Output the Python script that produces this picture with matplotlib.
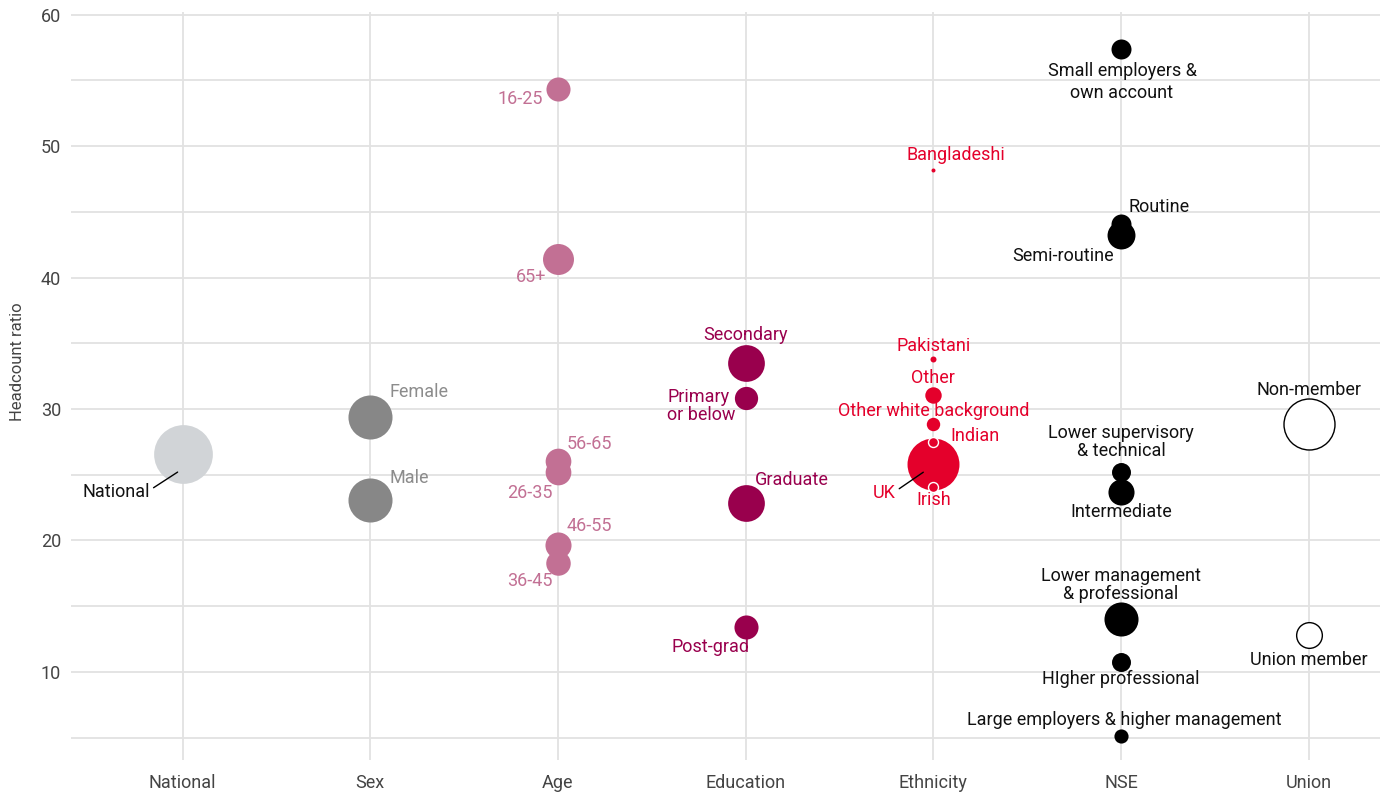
import matplotlib
matplotlib.use("Agg")
import matplotlib.pyplot as plt
from matplotlib.transforms import offset_copy

plt.rcParams["font.family"] = ["Roboto", "DejaVu Sans"]

# ---- data ----
groups = ["National", "Sex", "Age", "Education", "Ethnicity", "NSE", "Union"]

national_labels = ["National"]
national_vals = [26.57]
national_share = [34.5]

sex_labels = ["Female", "Male"]
sex_vals = [29.40, 23.07]
sex_share = [19.4, 19.4]

age_labels = ["16-25", "65+", "56-65", "26-35", "46-55", "36-45"]
age_vals = [54.35, 41.43, 26.06, 25.22, 19.65, 18.26]
age_share = [5.8, 9.6, 6.6, 6.6, 6.8, 6.0]

edu_labels = ["Secondary", "Primary\nor below", "Graduate", "Post-grad"]
edu_vals = [33.50, 30.84, 22.82, 13.44]
edu_share = [13.5, 5.4, 13.5, 5.8]

eth_labels = ["UK", "Bangladeshi", "Pakistani", "Other", "Other white background", "Indian", "Irish"]
eth_vals = [25.80, 48.17, 33.80, 31.10, 28.88, 27.50, 24.08]
eth_share = [27.0, 0.16, 0.36, 2.7, 1.8, 1.0, 1.0]

nse_labels = ["Small employers &\nown account", "Routine", "Semi-routine",
              "Lower supervisory\n& technical", "Intermediate",
              "Lower management\n& professional", "HIgher professional",
              "Large employers & higher management"]
nse_vals = [57.39, 44.10, 43.20, 25.22, 23.70, 14.03, 10.76, 5.11]
nse_share = [4.0, 4.0, 7.8, 3.6, 6.8, 11.6, 3.6, 2.0]

union_labels = ["Non-member", "Union member"]
union_vals = [28.87, 12.79]
union_share = [26.0, 6.6]

# ---- styling ----
colors = {"National": "#d1d4d7", "Sex": "#878787", "Age": "#c27094",
          "Education": "#99004d", "Ethnicity": "#e4002b", "NSE": "#000000",
          "Union": "#ffffff"}
label_colors = {"National": "#111111", "Sex": "#8c8c8c", "Age": "#c27094",
                "Education": "#99004d", "Ethnicity": "#e4002b", "NSE": "#111111",
                "Union": "#111111"}
# label offsets in pixels: (dx, dy, ha)
offsets = {
    "Female": (19, 25, "left"), "Male": (19, 22, "left"),
    "16-25": (-15, -10, "right"), "65+": (-12, -18, "right"),
    "56-65": (9, 17, "left"), "26-35": (-5, -21, "right"),
    "46-55": (9, 19, "left"), "36-45": (-5, -18, "right"),
    "Secondary": (0, 28, "center"), "Primary\nor below": (-10, -8, "right"),
    "Graduate": (9, 23, "left"), "Post-grad": (-35, -20, "center"),
    "Bangladeshi": (23, 15, "center"), "Pakistani": (0, 13, "center"),
    "Other": (0, 17, "center"), "Other white background": (0, 13, "center"),
    "Indian": (17, 6, "left"), "Irish": (0, -13, "center"),
    "Small employers &\nown account": (1, -33, "center"),
    "Routine": (8, 17, "left"), "Semi-routine": (-7, -21, "right"),
    "Lower supervisory\n& technical": (0, 30, "center"),
    "Intermediate": (0, -20, "center"),
    "Lower management\n& professional": (0, 34, "center"),
    "HIgher professional": (0, -17, "center"),
    "Large employers & higher management": (3, 16, "center"),
    "Non-member": (0, 34, "center"), "Union member": (0, -25, "center"),
}
# leader lines: label -> (line end offset from point, text offset from line end)
leaders = {"National": ((-5, -18), (-28, -20)), "UK": ((-10, -8), (-28, -21))}
white_edge = {"Indian", "Irish"}

SCALE = 51.84  # share -> marker area (pt^2)
FS = 13

fig = plt.figure(figsize=(13.83, 7.93), dpi=100)
ax = fig.add_axes([0.0513, 0.0416, 0.9465, 0.9433])

series = [
    ("National", national_labels, national_vals, national_share),
    ("Sex", sex_labels, sex_vals, sex_share),
    ("Age", age_labels, age_vals, age_share),
    ("Education", edu_labels, edu_vals, edu_share),
    ("Ethnicity", eth_labels, eth_vals, eth_share),
    ("NSE", nse_labels, nse_vals, nse_share),
    ("Union", union_labels, union_vals, union_share),
]

for gi, (g, labs, vals, share) in enumerate(series):
    for lab, v, s in zip(labs, vals, share):
        if g == "Union":
            ax.scatter(gi, v, s=s * SCALE, c="white", edgecolors="black",
                       linewidths=1.0, zorder=3)
        elif lab in white_edge:
            ax.scatter(gi, v, s=s * SCALE, c=colors[g], edgecolors="white",
                       linewidths=1.0, zorder=4)
        else:
            ax.scatter(gi, v, s=s * SCALE, c=colors[g], linewidths=0, zorder=3)

        if lab in leaders:
            (ex, ey), (tx, ty) = leaders[lab]
            tr = offset_copy(ax.transData, fig=fig, x=ex, y=ey, units="dots")
            ax.annotate(lab, xy=(gi, v), xycoords=tr, xytext=(tx, ty),
                        textcoords="offset pixels", ha="right", va="center",
                        fontsize=FS, color=label_colors[g], zorder=6,
                        arrowprops=dict(arrowstyle="-", color="black", lw=1,
                                        shrinkA=1, shrinkB=0, relpos=(1.0, 0.6)))
            continue
        dx, dy, ha = offsets[lab]
        ls = 1.3 if lab.startswith("Small") else 1.0
        ax.annotate(lab, xy=(gi, v), xytext=(dx, dy), textcoords="offset pixels",
                    ha=ha, va="center", fontsize=FS, color=label_colors[g],
                    multialignment="left" if ha == "right" else "center",
                    linespacing=ls, zorder=6)

ax.set_xlim(-0.595, 6.38)
ax.set_ylim(3.3, 60.2)
ax.set_xticks(range(len(groups)))
ax.set_xticklabels(groups)
ax.set_yticks([10, 20, 30, 40, 50, 60])
ax.set_yticks([5, 15, 25, 35, 45, 55], minor=True)
ax.grid(True, which="both", color="#e2e2e2", lw=1.3)
ax.set_axisbelow(True)
for sp in ax.spines.values():
    sp.set_visible(False)
ax.tick_params(axis="both", which="both", length=0, labelsize=13,
               labelcolor="#444444")
ax.tick_params(axis="x", pad=10)
ax.tick_params(axis="y", pad=7)
ax.set_ylabel("Headcount ratio", fontsize=12, color="#444444")
ax.yaxis.set_label_coords(-0.035, 0.532)

fig.savefig("out.png", dpi=100)
